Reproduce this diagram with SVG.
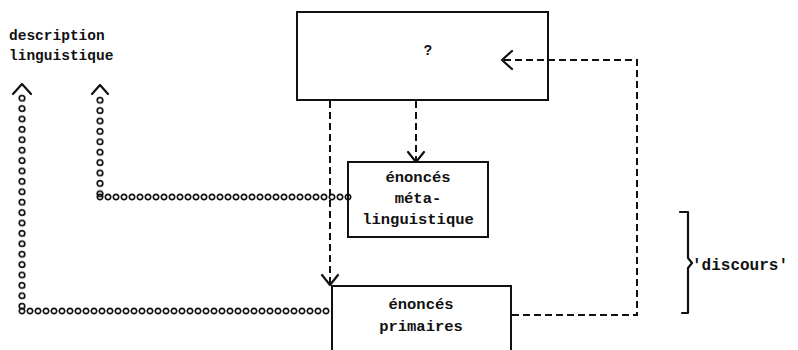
<svg xmlns="http://www.w3.org/2000/svg" width="798" height="350" viewBox="0 0 798 350">
<style>
.box{fill:#fff;stroke:#111;stroke-width:2}
.dash{fill:none;stroke:#111;stroke-width:2;stroke-dasharray:7 4}
.head{fill:none;stroke:#111;stroke-width:2.2;stroke-linecap:round;stroke-linejoin:round}
.t{font-family:"Liberation Mono","DejaVu Sans Mono",monospace;font-weight:bold;fill:#111}
.bt{font-size:15.5px;text-anchor:middle}
</style>
<defs>
<pattern id="ringsH" patternUnits="userSpaceOnUse" width="8" height="8" x="0" y="-4">
<circle cx="4" cy="4" r="2.7" fill="none" stroke="#111" stroke-width="1.7"/>
</pattern>
<pattern id="ringsV" patternUnits="userSpaceOnUse" width="8" height="10.4" x="-4" y="0">
<circle cx="4" cy="5.2" r="2.8" fill="none" stroke="#111" stroke-width="1.7"/>
</pattern>
</defs>
<rect width="798" height="350" fill="#fff"/>
<g id="label-description">
<text class="t" x="9" y="40" font-size="14.5">description</text>
<text class="t" x="9" y="60" font-size="14.5">linguistique</text>
</g>
<g id="node-top">
<rect class="box" x="297" y="12" width="251" height="88"/>
<text class="t" x="428" y="55" font-size="14" text-anchor="middle">?</text>
</g>
<g id="node-meta">
<rect class="box" x="348" y="162" width="140" height="75"/>
<text class="t bt" x="418" y="182">énoncés</text>
<text class="t bt" x="418" y="203">méta-</text>
<text class="t bt" x="418" y="224">linguistique</text>
</g>
<g id="node-primaires">
<rect class="box" x="332" y="286" width="179" height="80"/>
<text class="t bt" x="421" y="309">énoncés</text>
<text class="t bt" x="421" y="331">primaires</text>
</g>
<g id="connectors">
<g transform="translate(22,93)"><rect x="-4" y="0" width="8" height="218" fill="url(#ringsV)"/></g>
<g transform="translate(18,311)"><rect x="0" y="-4" width="312" height="8" fill="url(#ringsH)"/></g>
<g transform="translate(100,95)"><rect x="-4" y="0" width="8" height="104" fill="url(#ringsV)"/></g>
<g transform="translate(96,197)"><rect x="0" y="-4" width="256" height="8" fill="url(#ringsH)"/></g>
<path class="head" d="M13,94 L22,84 L31,94"/>
<path class="head" d="M92,94 L100,85 L108,94"/>
<path class="dash" d="M330,101 V283"/>
<path class="head" d="M322,275 L330,285 L338,275"/>
<path class="dash" d="M416,101 V160"/>
<path class="head" d="M408,152 L416,162 L424,152"/>
<path class="dash" d="M512,315 H637 V60 H504"/>
<path class="head" d="M512,51 L502,60 L512,69"/>
</g>
<g id="bracket-discours">
<path class="head" d="M680,212 H688 V258 L692,263 L688,268 V313 H682"/>
<text class="t" x="692" y="270" font-size="16">'discours'</text>
</g>
</svg>
